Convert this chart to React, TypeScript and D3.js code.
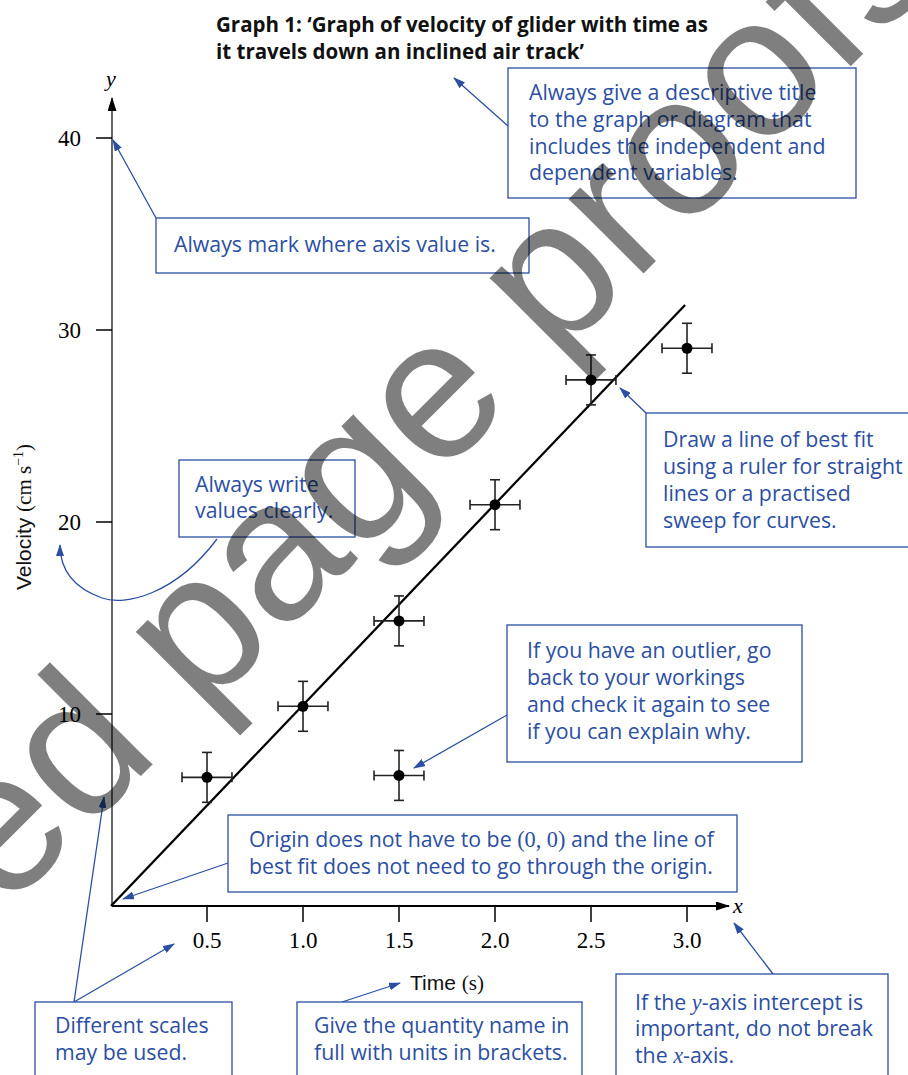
import React from 'react';
import * as d3 from 'd3';

// ---- chart data ----
const times = [0.5, 1.0, 1.5, 1.5, 2.0, 2.5, 3.0];
const velocities = [6.7, 10.4, 14.85, 6.8, 20.9, 27.4, 29.05];
const timeErr = [0.13, 0.13, 0.13, 0.13, 0.13, 0.13, 0.13];
const velErr = [1.3, 1.3, 1.3, 1.3, 1.3, 1.3, 1.3];
const xTicks = [0.5, 1.0, 1.5, 2.0, 2.5, 3.0];
const yTicks = [10, 20, 30, 40];
const fitTimes = [0, 2.99];
const fitVelocities = [0, 31.3];

const titleLines = [
  'Graph 1: \u2018Graph of velocity of glider with time as',
  'it travels down an inclined air track\u2019',
];

type Seg = [string, 'sans' | 'serif' | 'serifItalic'];
const note1: Seg[][] = [
  [['Always give a descriptive title', 'sans']],
  [['to the graph or diagram that', 'sans']],
  [['includes the independent and', 'sans']],
  [['dependent variables.', 'sans']],
];
const note2: Seg[][] = [[['Always mark where axis value is.', 'sans']]];
const note3: Seg[][] = [[['Always write', 'sans']], [['values clearly.', 'sans']]];
const note4: Seg[][] = [
  [['Draw a line of best fit', 'sans']],
  [['using a ruler for straight', 'sans']],
  [['lines or a practised', 'sans']],
  [['sweep for curves.', 'sans']],
];
const note5: Seg[][] = [
  [['If you have an outlier, go', 'sans']],
  [['back to your workings', 'sans']],
  [['and check it again to see', 'sans']],
  [['if you can explain why.', 'sans']],
];
const note6: Seg[][] = [
  [['Origin does not have to be ', 'sans'], ['(0, 0)', 'serif'], [' and the line of', 'sans']],
  [['best fit does not need to go through the origin.', 'sans']],
];
const note7: Seg[][] = [[['Different scales', 'sans']], [['may be used.', 'sans']]];
const note8: Seg[][] = [[['Give the quantity name in', 'sans']], [['full with units in brackets.', 'sans']]];
const note9: Seg[][] = [
  [['If the ', 'sans'], ['y', 'serifItalic'], ['-axis intercept is', 'sans']],
  [['important, do not break', 'sans']],
  [['the ', 'sans'], ['x', 'serifItalic'], ['-axis.', 'sans']],
];

const BLUE = '#2c4fa3';
const SANS = '"Open Sans", "Noto Sans", sans-serif';
const SERIF = '"Liberation Serif", "DejaVu Serif", serif';
const ARIAL = '"Liberation Sans", Arial, sans-serif';
const NOTE_FS = 21.3;

const segStyle = (k: Seg[1]) =>
  k === 'sans'
    ? { fontFamily: SANS }
    : k === 'serif'
    ? { fontFamily: SERIF, fontSize: NOTE_FS + 1 }
    : { fontFamily: SERIF, fontStyle: 'italic', fontSize: NOTE_FS + 1 };

function Note({ x, y, w, h, tx, baselines, lines }: { x: number; y: number; w: number; h: number; tx: number; baselines: number[]; lines: Seg[][] }) {
  return (
    <g>
      <rect x={x} y={y} width={w} height={h} fill="#fff" stroke={BLUE} strokeWidth={1.3} />
      {lines.map((segs, i) => (
        <text key={i} x={tx} y={baselines[i]} fill={BLUE} fontSize={NOTE_FS} fontFamily={SANS}>
          {segs.map((s, j) => (
            <tspan key={j} {...(segStyle(s[1]) as any)}>
              {s[0]}
            </tspan>
          ))}
        </text>
      ))}
    </g>
  );
}

function Arrow({ x1, y1, x2, y2 }: { x1: number; y1: number; x2: number; y2: number }) {
  return <line x1={x1} y1={y1} x2={x2} y2={y2} stroke={BLUE} strokeWidth={1.3} markerEnd="url(#blueHead)" />;
}

export default function App() {
  const x = d3.scaleLinear().domain([0, 3]).range([111, 687]);
  const y = d3.scaleLinear().domain([0, 40]).range([906, 138]);
  const fitLine = d3
    .line<number>()
    .x((_, i) => x(fitTimes[i]))
    .y((_, i) => y(fitVelocities[i]))(fitTimes);
  const x0 = x(0) + 1;
  const y0 = y(0);

  return (
    <svg
      width={908}
      height={1075}
      viewBox="0 0 908 1075"
      style={{ position: 'absolute', left: 0, top: 0, background: '#fff' }}
    >
      <defs>
        <marker id="blueHead" viewBox="0 0 12 8" refX={11} refY={4} markerWidth={12} markerHeight={8} markerUnits="userSpaceOnUse" orient="auto">
          <path d="M0,0 L12,4 L0,8 Z" fill={BLUE} />
        </marker>
        <marker id="blackHead" viewBox="0 0 14 9" refX={13} refY={4.5} markerWidth={14} markerHeight={9} markerUnits="userSpaceOnUse" orient="auto">
          <path d="M0,0 L14,4.5 L0,9 Z" fill="#000" />
        </marker>
      </defs>
      <rect width={908} height={1075} fill="#fff" />

      {/* title */}
      {titleLines.map((t, i) => (
        <text key={i} x={216} y={32 + i * 27} fontFamily={SANS} fontWeight={700} fontSize={20.5} fill="#111">
          {t}
        </text>
      ))}

      {/* axes */}
      <line x1={x0} y1={y0} x2={x0} y2={98} stroke="#000" strokeWidth={1.2} markerEnd="url(#blackHead)" />
      <line x1={x0} y1={y0} x2={729} y2={y0} stroke="#000" strokeWidth={2} markerEnd="url(#blackHead)" />
      <text x={111} y={86} fontFamily={SERIF} fontStyle="italic" fontSize={22} textAnchor="middle">y</text>
      <text x={733} y={913} fontFamily={SERIF} fontStyle="italic" fontSize={22}>x</text>

      {yTicks.map((t) => (
        <g key={t}>
          <line x1={96} x2={x0} y1={y(t)} y2={y(t)} stroke="#000" strokeWidth={1.5} />
          <text x={81} y={y(t) + 8} textAnchor="end" fontFamily={SERIF} fontSize={23}>
            {t}
          </text>
        </g>
      ))}
      {xTicks.map((t) => (
        <g key={t}>
          <line x1={x(t)} x2={x(t)} y1={y0} y2={922} stroke="#000" strokeWidth={1.5} />
          <text x={x(t)} y={948} textAnchor="middle" fontFamily={SERIF} fontSize={23}>
            {d3.format('.1f')(t)}
          </text>
        </g>
      ))}

      {/* axis titles */}
      <text transform="translate(31,517) rotate(-90)" textAnchor="middle" fontSize={21} fill="#111">
        <tspan fontFamily={ARIAL}>Velocity </tspan>
        <tspan fontFamily={SERIF}>(cm s</tspan>
        <tspan fontFamily={SERIF} fontSize={14} dy={-8}>{'\u22121'}</tspan>
        <tspan fontFamily={SERIF} dy={8}>)</tspan>
      </text>
      <text x={447} y={990} textAnchor="middle" fontSize={21} fill="#111">
        <tspan fontFamily={ARIAL}>Time </tspan>
        <tspan fontFamily={SERIF}>(s)</tspan>
      </text>

      {/* best fit line */}
      <path d={fitLine || ''} stroke="#000" strokeWidth={2.3} fill="none" />

      {/* data points with error bars */}
      {times.map((t, i) => {
        const cx = x(t);
        const cy = y(velocities[i]);
        const xl = x(t - timeErr[i]);
        const xr = x(t + timeErr[i]);
        const yt = y(velocities[i] + velErr[i]);
        const yb = y(velocities[i] - velErr[i]);
        return (
          <g key={i} stroke="#222" strokeWidth={1.6}>
            <line x1={xl} x2={xr} y1={cy} y2={cy} />
            <line x1={cx} x2={cx} y1={yt} y2={yb} />
            <line x1={xl} x2={xl} y1={cy - 5} y2={cy + 5} />
            <line x1={xr} x2={xr} y1={cy - 5} y2={cy + 5} />
            <line x1={cx - 5} x2={cx + 5} y1={yt} y2={yt} />
            <line x1={cx - 5} x2={cx + 5} y1={yb} y2={yb} />
            <circle cx={cx} cy={cy} r={5.5} fill="#000" stroke="none" />
          </g>
        );
      })}

      {/* annotations */}
      <Arrow x1={508} y1={126} x2={454} y2={78} />
      <Note x={508} y={68} w={348} h={130} tx={529} baselines={[100, 127, 154, 180]} lines={note1} />

      <Arrow x1={156} y1={218} x2={113} y2={140} />
      <Note x={156} y={218} w={373} h={55} tx={174} baselines={[252]} lines={note2} />

      <path d="M217,539 C175,595 125,606 102,598 C74,588 60,570 60,545" fill="none" stroke={BLUE} strokeWidth={1.3} markerEnd="url(#blueHead)" />
      <Note x={179} y={460} w={176} h={77} tx={195} baselines={[492, 518]} lines={note3} />

      <Arrow x1={646} y1={413} x2={620} y2={388} />
      <Note x={646} y={413} w={280} h={134} tx={663} baselines={[447, 474, 501, 528]} lines={note4} />

      <Arrow x1={507} y1={715} x2={414} y2={768} />
      <Note x={507} y={625} w={295} h={137} tx={527} baselines={[658, 685, 712, 739]} lines={note5} />

      <Arrow x1={228} y1={863} x2={123} y2={899} />
      <Note x={228} y={815} w={509} h={77} tx={249} baselines={[847, 874]} lines={note6} />

      <Arrow x1={74} y1={1002} x2={104} y2={797} />
      <Arrow x1={74} y1={1002} x2={174} y2={944} />
      <Note x={35} y={1002} w={197} h={100} tx={55} baselines={[1033, 1060]} lines={note7} />

      <Arrow x1={342} y1={1002} x2={400} y2={983} />
      <Note x={297} y={1002} w={285} h={100} tx={314} baselines={[1033, 1060]} lines={note8} />

      <Arrow x1={773} y1={974} x2={734} y2={923} />
      <Note x={616} y={974} w={272} h={120} tx={635} baselines={[1010, 1036, 1063]} lines={note9} />

      {/* watermark */}
      <text
        transform="translate(-349,1266) rotate(-45)"
        fontFamily={ARIAL}
        fontSize={200}
        fill="#000"
        fillOpacity={0.5}
      >
        Revised page proofs
      </text>
    </svg>
  );
}
